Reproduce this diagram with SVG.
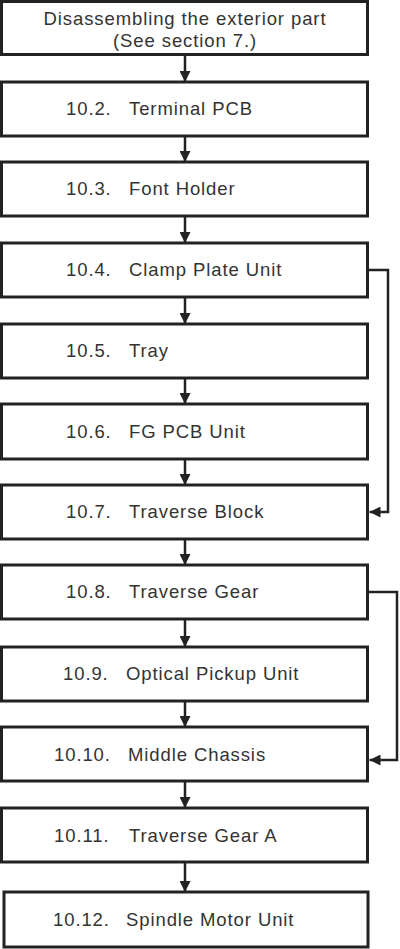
<svg xmlns="http://www.w3.org/2000/svg" width="400" height="949" viewBox="0 0 400 949">
<style>
.box{fill:#fff;stroke:#222;stroke-width:3}
.t{font-family:"Liberation Sans",Arial,sans-serif;font-size:18.5px;fill:#333;letter-spacing:0.9px}
.c{text-anchor:middle}
.ln{fill:none;stroke:#222;stroke-width:2.5}
</style>
<defs>
<marker id="ah" viewBox="0 0 10 10" refX="10" refY="5" markerWidth="4.4" markerHeight="4.4" orient="auto" markerUnits="strokeWidth">
<path d="M0,0 L10,5 L0,10 z" fill="#222"/>
</marker>
</defs>
<rect width="400" height="949" fill="#fff"/>
<g id="n1"><rect class="box" x="1.5" y="1.5" width="366" height="53"/>
<text class="t c" x="185" y="25">Disassembling the exterior part</text>
<text class="t c" x="185" y="47">(See section 7.)</text></g>
<g id="n2"><rect class="box" x="1.5" y="82" width="366" height="54"/>
<text class="t" x="66" y="115">10.2.</text><text class="t" x="129" y="115">Terminal PCB</text></g>
<g id="n3"><rect class="box" x="1.5" y="162" width="366" height="54"/>
<text class="t" x="66" y="195">10.3.</text><text class="t" x="129" y="195">Font Holder</text></g>
<g id="n4"><rect class="box" x="1.5" y="243" width="366" height="54"/>
<text class="t" x="66" y="276">10.4.</text><text class="t" x="129" y="276">Clamp Plate Unit</text></g>
<g id="n5"><rect class="box" x="1.5" y="324" width="366" height="54"/>
<text class="t" x="66" y="357">10.5.</text><text class="t" x="129" y="357">Tray</text></g>
<g id="n6"><rect class="box" x="1.5" y="404" width="366" height="55"/>
<text class="t" x="66" y="438">10.6.</text><text class="t" x="129" y="438">FG PCB Unit</text></g>
<g id="n7"><rect class="box" x="1.5" y="485" width="366" height="54"/>
<text class="t" x="66" y="518">10.7.</text><text class="t" x="129" y="518">Traverse Block</text></g>
<g id="n8"><rect class="box" x="1.5" y="565" width="366" height="54"/>
<text class="t" x="66" y="598">10.8.</text><text class="t" x="129" y="598">Traverse Gear</text></g>
<g id="n9"><rect class="box" x="1.5" y="647" width="366" height="54"/>
<text class="t" x="63" y="680">10.9.</text><text class="t" x="126" y="680">Optical Pickup Unit</text></g>
<g id="n10"><rect class="box" x="1.5" y="727" width="366" height="54"/>
<text class="t" x="54" y="761">10.10.</text><text class="t" x="128" y="761">Middle Chassis</text></g>
<g id="n11"><rect class="box" x="1.5" y="808" width="366" height="54"/>
<text class="t" x="54" y="842">10.11.</text><text class="t" x="129" y="842">Traverse Gear A</text></g>
<g id="n12"><rect class="box" x="4" y="892" width="364" height="55"/>
<text class="t" x="53" y="926">10.12.</text><text class="t" x="126" y="926">Spindle Motor Unit</text></g>
<g id="connectors">
<path class="ln" marker-end="url(#ah)" d="M185,56 V82"/>
<path class="ln" marker-end="url(#ah)" d="M185,137 V162"/>
<path class="ln" marker-end="url(#ah)" d="M185,217 V243"/>
<path class="ln" marker-end="url(#ah)" d="M185,298 V324"/>
<path class="ln" marker-end="url(#ah)" d="M185,379 V404"/>
<path class="ln" marker-end="url(#ah)" d="M185,460 V485"/>
<path class="ln" marker-end="url(#ah)" d="M185,540 V565"/>
<path class="ln" marker-end="url(#ah)" d="M185,620 V647"/>
<path class="ln" marker-end="url(#ah)" d="M185,702 V727"/>
<path class="ln" marker-end="url(#ah)" d="M185,782 V808"/>
<path class="ln" marker-end="url(#ah)" d="M185,863 V892"/>
<path class="ln" marker-end="url(#ah)" d="M369,270 H388 V512 H369.5"/>
<path class="ln" marker-end="url(#ah)" d="M369,592 H397 V760 H369.5"/>
</g>
</svg>
